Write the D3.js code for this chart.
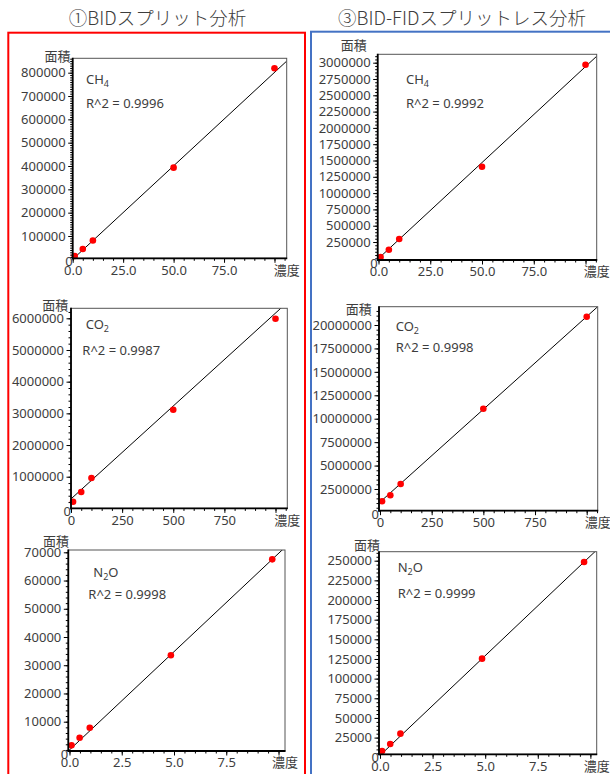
<!DOCTYPE html>
<html>
<head>
<meta charset="utf-8">
<script src="https://cdn.jsdelivr.net/npm/d3@7"></script>
<style>
  html, body { margin: 0; padding: 0; background: #fff; }
  svg { display: block; }
  text { font-family: "Noto Sans", "Noto Sans CJK JP", sans-serif; fill: #3d3d3d; }
</style>
</head>
<body>
<svg id="chart" width="610" height="774"></svg>
<script>
// ---- data ----
const columnTitles = ["①BIDスプリット分析", "③BID-FIDスプリットレス分析"];

// concentrations (x) per gas
const concCH4 = [1, 5, 10, 50, 100];
const concCO2 = [10, 50, 100, 500, 1000];
const concN2O = [0.097, 0.485, 0.97, 4.85, 9.7];

// peak areas (y)
const areaCH4_BID = [14000, 44000, 81000, 393000, 819000];
const areaCH4_FID = [20000, 132000, 296000, 1405000, 2969000];
const areaCO2_BID = [211000, 518000, 960000, 3116000, 5988000];
const areaCO2_FID = [1185000, 1825000, 3030000, 11070000, 20880000];
const areaN2O_BID = [1630, 4320, 7860, 33510, 67510];
const areaN2O_FID = [8000, 16900, 30000, 125400, 248400];

// calibration line: area = slope * conc + intercept
const fitSlope = [8010, 29430, 5866, 19800, 6960, 25360];
const fitIntercept = [200, -2900, 298900, 1100000, 0, 2400];
const r2Labels = ["0.9996", "0.9992", "0.9987", "0.9998", "0.9998", "0.9999"];

// gas names as [main, subscript, tail]
const gasNames = [["CH", "4", ""], ["CH", "4", ""], ["CO", "2", ""], ["CO", "2", ""], ["N", "2", "O"], ["N", "2", "O"]];

// axis ticks
const xTicksCH4 = [0, 25, 50, 75, 100];
const xTicksCO2 = [0, 250, 500, 750, 1000];
const xTicksN2O = [0, 2.5, 5, 7.5, 10];
const yTicksCH4_BID = d3.range(100000, 800001, 100000);
const yTicksCH4_FID = d3.range(250000, 3000001, 250000);
const yTicksCO2_BID = d3.range(1000000, 6000001, 1000000);
const yTicksCO2_FID = d3.range(2500000, 20000001, 2500000);
const yTicksN2O_BID = d3.range(10000, 70001, 10000);
const yTicksN2O_FID = d3.range(25000, 250001, 25000);

const xAxisTitle = "濃度";
const yAxisTitle = "面積";

// ---- layout ----
const panels = [
  { box: [72.7, 58.3, 286.7, 258.3], xDom: [0, 106.05], yDom: [4400, 861700],
    x: concCH4, y: areaCH4_BID, xTicks: xTicksCH4, xFmt: ".1f", xMinor: 5, yTicks: yTicksCH4_BID, yMinor: 10000,
    yLab: [70.5, 56], gas: [13.3, 21], r2: [13.3, 45] },
  { box: [377.7, 54.3, 596.7, 260], xDom: [-0.39, 105.4], yDom: [-26000, 3128800],
    x: concCH4, y: areaCH4_FID, xTicks: xTicksCH4, xFmt: ".1f", xMinor: 5, yTicks: yTicksCH4_FID, yMinor: 50000,
    yLab: [366.7, 44.7], gas: [28.3, 25], r2: [28.3, 49] },
  { box: [71, 308.3, 287.3, 508.4], xDom: [0, 1057.7], yDom: [0, 6315700],
    x: concCO2, y: areaCO2_BID, xTicks: xTicksCO2, xFmt: "d", xMinor: 50, yTicks: yTicksCO2_BID, yMinor: 200000,
    yLab: [68.3, 305.3], gas: [14.7, 16], r2: [11.3, 41.7] },
  { box: [379, 306.7, 597.7, 510.7], xDom: [-4.8, 1053.2], yDom: [184000, 21953000],
    x: concCO2, y: areaCO2_FID, xTicks: xTicksCO2, xFmt: "d", xMinor: 50, yTicks: yTicksCO2_FID, yMinor: 500000,
    yLab: [371.7, 309.2], gas: [16.7, 20], r2: [16.7, 40.6] },
  { box: [68.3, 550, 285, 751], xDom: [-0.057, 10.31], yDom: [-378, 70815],
    x: concN2O, y: areaN2O_BID, xTicks: xTicksN2O, xFmt: ".1f", xMinor: 0.5, yTicks: yTicksN2O_BID, yMinor: 2000,
    yLab: [69, 541.3], gas: [25, 22.7], r2: [20, 44.3] },
  { box: [379, 551.7, 596.7, 754.3], xDom: [-0.048, 10.30], yDom: [3760, 261450],
    x: concN2O, y: areaN2O_FID, xTicks: xTicksN2O, xFmt: ".1f", xMinor: 0.5, yTicks: yTicksN2O_FID, yMinor: 5000,
    yLab: [380, 545.5], gas: [18.7, 15.6], r2: [18.7, 41.6] }
];

const svg = d3.select("#chart");

// column frames
svg.append("rect").attr("x", 8.3).attr("y", 32.7).attr("width", 296.7).attr("height", 760)
  .attr("fill", "none").attr("stroke", "#ff0000").attr("stroke-width", 2);
svg.append("rect").attr("x", 311).attr("y", 31.7).attr("width", 320).attr("height", 760)
  .attr("fill", "none").attr("stroke", "#4472c4").attr("stroke-width", 2);

// column titles
[[157.5, 0], [462, 1]].forEach(([cx, i]) => {
  svg.append("text").attr("x", cx).attr("y", 19).attr("dy", "0.35em")
    .attr("text-anchor", "middle").style("font-size", "18.5px").style("font-family", "'Noto Sans CJK JP', sans-serif")
    .style("font-weight", 300).text(columnTitles[i]);
});

panels.forEach((p, i) => {
  const [L, T, R, B] = p.box;
  const x = d3.scaleLinear().domain(p.xDom).range([L, R]);
  const y = d3.scaleLinear().domain(p.yDom).range([B, T]);
  const g = svg.append("g");

  const clipId = "clip" + i;
  g.append("clipPath").attr("id", clipId).append("rect")
    .attr("x", L).attr("y", T).attr("width", R - L).attr("height", B - T);

  // calibration line
  const lineData = p.xDom.map(v => [v, fitSlope[i] * v + fitIntercept[i]]);
  g.append("path").datum(lineData)
    .attr("clip-path", `url(#${clipId})`)
    .attr("d", d3.line().x(d => x(d[0])).y(d => y(d[1])))
    .attr("fill", "none").attr("stroke", "#000").attr("stroke-width", 1);

  // data points
  g.append("g").selectAll("circle").data(p.x.map((v, k) => [v, p.y[k]])).join("circle")
    .attr("cx", d => x(d[0])).attr("cy", d => y(d[1])).attr("r", 3.3)
    .attr("fill", "#ff0000");

  // frame
  g.append("rect").attr("x", L).attr("y", T).attr("width", R - L).attr("height", B - T)
    .attr("fill", "none").attr("stroke", "#555").attr("stroke-width", 1);

  // minor ticks
  const yMinorVals = d3.range(Math.ceil(p.yDom[0] / p.yMinor) * p.yMinor, p.yDom[1], p.yMinor)
    .filter(v => v > p.yDom[0]);
  g.append("g").attr("transform", `translate(${L},0)`)
    .call(d3.axisLeft(y).tickValues(yMinorVals).tickSize(2.5).tickFormat(""))
    .call(a => a.select(".domain").remove());
  const xMinorVals = d3.range(0, p.xDom[1], p.xMinor);
  g.append("g").attr("transform", `translate(0,${B})`)
    .call(d3.axisBottom(x).tickValues(xMinorVals).tickSize(2.5).tickFormat(""))
    .call(a => a.select(".domain").remove());

  // major ticks
  const yAx = g.append("g").attr("transform", `translate(${L},0)`)
    .call(d3.axisLeft(y).tickValues(p.yTicks).tickSize(4.5).tickPadding(2.5).tickFormat(d3.format("d")));
  yAx.select(".domain").remove();
  const xAx = g.append("g").attr("transform", `translate(0,${B})`)
    .call(d3.axisBottom(x).tickValues(p.xTicks).tickSize(4.5).tickPadding(2.5)
      .tickFormat((d, k) => k === p.xTicks.length - 1 ? "" : d3.format(p.xFmt)(d)));
  xAx.select(".domain").remove();
  g.selectAll(".tick text").style("font-size", "13px").style("font-family", "'Noto Sans', sans-serif").attr("fill", "#3d3d3d");
  g.selectAll(".tick line").attr("stroke", "#000");

  // thick left / bottom axis lines
  g.append("line").attr("x1", L).attr("x2", L).attr("y1", T - 0.5).attr("y2", B + 1)
    .attr("stroke", "#000").attr("stroke-width", 1.8);
  g.append("line").attr("x1", L - 0.5).attr("x2", R + 0.5).attr("y1", B).attr("y2", B)
    .attr("stroke", "#000").attr("stroke-width", 1.8);

  // zero label at the corner
  g.append("text").attr("x", L).attr("y", B + 3.5).attr("dy", "0.35em")
    .attr("text-anchor", "end").style("font-size", "13px").text("0");

  // axis titles
  g.append("text").attr("x", p.yLab[0]).attr("y", p.yLab[1]).attr("dy", "0.38em")
    .attr("text-anchor", "end").style("font-size", "13px").style("font-family", "'Noto Sans CJK JP', sans-serif")
    .text(yAxisTitle);
  g.append("text").attr("x", R).attr("y", B + 11.5).attr("dy", "0.38em")
    .attr("text-anchor", "middle").style("font-size", "13px").style("font-family", "'Noto Sans CJK JP', sans-serif")
    .text(xAxisTitle);

  // gas name with subscript
  const gt = g.append("text").attr("x", L + p.gas[0]).attr("y", T + p.gas[1]).attr("dy", "0.35em")
    .style("font-size", "13px");
  gt.append("tspan").text(gasNames[i][0]);
  gt.append("tspan").attr("dy", 3).style("font-size", "9px").text(gasNames[i][1]);
  if (gasNames[i][2]) gt.append("tspan").attr("dy", -3).text(gasNames[i][2]);

  // R^2 label
  g.append("text").attr("x", L + p.r2[0]).attr("y", T + p.r2[1]).attr("dy", "0.35em")
    .style("font-size", "13px").text("R^2 = " + r2Labels[i]);
});
</script>
</body>
</html>
